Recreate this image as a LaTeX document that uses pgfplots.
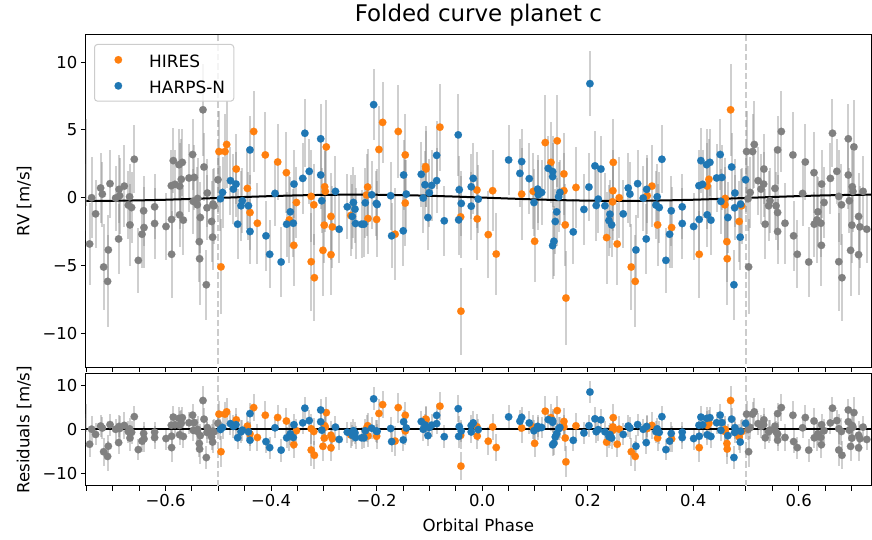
\documentclass[border=0pt]{standalone}
\usepackage{fontspec}
\setmainfont{DejaVu Sans}
\usepackage{pgfplots}
\pgfplotsset{compat=1.18}
\usepackage{pgfplotstable}
\definecolor{mplorange}{HTML}{FF7F0E}
\definecolor{mplblue}{HTML}{1F77B4}
\definecolor{mplgray}{HTML}{808080}

\pgfplotstableread{
x y e
-0.4988 3.41 3.0
-0.4874 3.41 2.8
-0.4842 3.93 3.2
-0.4950 -5.10 3.5
-0.4330 4.89 3.0
-0.4660 2.12 2.6
-0.4450 0.69 3.0
-0.4400 -1.09 2.8
-0.4260 -1.88 3.0
-0.4110 3.16 3.2
-0.3875 2.64 2.8
-0.3710 1.85 3.0
-0.3520 -0.35 2.6
-0.3655 -1.63 3.2
-0.3570 -3.51 3.0
-0.3240 0.10 3.4
-0.3190 -0.52 3.0
-0.2954 3.75 3.5
-0.2985 0.81 2.8
-0.2973 0.47 3.0
-0.2865 -1.38 3.2
-0.2992 -2.02 2.8
-0.2840 -2.15 3.0
-0.3017 -3.88 3.4
-0.2865 -4.20 3.0
-0.3240 -4.72 3.6
-0.3180 -5.90 3.2
-0.2490 -1.31 3.0
-0.2170 0.79 2.8
-0.2190 0.20 3.0
-0.2164 -1.53 2.6
-0.2000 -1.60 2.8
-0.1956 3.56 3.2
-0.1886 5.56 3.0
-0.1590 4.89 3.4
-0.1457 3.16 3.0
-0.1457 -0.39 3.2
-0.1650 -2.69 3.4
-0.1070 2.30 3.0
-0.1065 2.12 2.8
-0.0800 5.21 3.2
-0.0407 -1.41 3.0
-0.0099 0.57 2.8
-0.0093 -1.56 3.0
-0.0402 -8.37 3.2
0.0199 0.52 3.0
0.0116 -2.72 3.2
0.0267 -4.15 3.0
0.0749 0.27 3.4
0.0995 -3.21 3.0
0.0968 0.47 2.8
0.1196 4.07 3.5
0.1423 4.20 3.4
0.1304 2.61 3.0
0.1550 1.76 3.0
0.1550 0.52 2.8
0.1575 -2.00 3.0
0.1588 -7.40 3.5
0.1778 0.76 3.0
0.2485 2.61 3.2
0.2479 0.52 3.0
0.2473 -0.30 2.8
0.2598 0.00 3.0
0.2359 -2.94 3.4
0.2560 -3.41 3.0
0.2826 -5.11 3.2
0.2901 -6.17 3.4
0.3218 0.86 3.0
0.3129 0.15 2.8
0.3325 -2.00 3.0
0.4709 6.49 3.4
0.4298 1.36 3.0
0.4266 0.86 3.2
0.4607 -0.05 3.0
0.4601 -0.52 2.8
0.3591 -2.20 3.0
0.4114 -4.17 3.2
0.4639 -3.24 3.0
0.4645 -4.50 3.4
0.4872 -1.75 3.0
0.4917 -0.59 2.8
}\hires

\pgfplotstableread{
x y e
-0.4920 0.39 2.6
-0.4960 -0.07 2.4
-0.4770 1.26 2.5
-0.4665 1.01 2.4
-0.4715 0.64 2.6
-0.4400 3.53 2.5
-0.4545 -0.22 2.4
-0.4570 -0.59 2.6
-0.4430 -0.59 2.5
-0.4635 -1.95 2.6
-0.4400 -2.49 2.4
-0.4097 -2.81 2.6
-0.4027 -4.17 2.5
-0.3810 -4.74 2.6
-0.3926 0.32 2.4
-0.3566 1.01 2.5
-0.3636 -1.04 2.6
-0.3705 -1.95 2.4
-0.3580 -1.88 2.5
-0.3400 1.43 2.6
-0.3360 4.76 2.5
-0.3277 1.95 2.4
-0.3060 4.35 2.6
-0.3060 1.68 2.5
-0.3040 -0.22 2.4
-0.2780 0.47 2.6
-0.2710 -2.32 2.5
-0.2556 -0.67 2.4
-0.2440 -0.35 2.6
-0.2410 -0.84 2.5
-0.2460 -1.38 2.4
-0.2400 -1.90 2.6
-0.2284 -1.95 2.5
-0.2240 -1.95 2.4
-0.2215 -0.37 2.6
-0.2094 0.22 2.5
-0.2006 -0.42 2.4
-0.1990 -0.50 2.6
-0.2056 6.87 2.6
-0.1734 0.15 2.5
-0.1715 -2.81 2.4
-0.1488 1.68 2.6
-0.1438 0.27 2.5
-0.1495 -2.44 2.6
-0.1154 1.73 2.4
-0.1084 0.96 2.5
-0.0957 0.91 2.6
-0.0862 1.26 2.4
-0.1002 0.37 2.5
-0.1116 -0.02 2.6
-0.0862 3.13 2.5
-0.1027 -1.46 2.4
-0.0718 -1.70 2.6
-0.0453 4.64 3.0
-0.0434 0.59 2.5
-0.0396 -0.42 2.4
-0.0445 -1.63 2.6
-0.0207 -0.62 2.5
-0.0207 0.81 2.4
-0.0169 1.43 2.6
-0.0074 -0.10 2.5
0.0502 2.79 2.6
0.0716 1.80 2.5
0.0749 2.67 2.4
0.0893 1.41 2.6
0.1052 0.64 2.5
0.1128 0.39 2.4
0.1063 0.22 2.6
0.0982 -0.35 2.5
0.1253 2.17 2.4
0.1336 1.93 2.6
0.1336 1.56 2.5
0.1474 0.39 2.4
0.1450 0.07 2.6
0.1412 -1.04 2.5
0.1386 -1.75 2.4
0.1360 -3.21 2.6
0.1336 -3.53 2.5
0.1727 -2.52 2.4
0.2043 8.42 2.4
0.1929 -0.86 2.6
0.2024 0.79 2.5
0.2138 2.35 2.6
0.2251 2.12 2.4
0.2200 -0.10 2.5
0.2162 -0.57 2.6
0.2327 -0.59 2.4
0.2422 -1.21 2.5
0.2403 -1.68 2.6
0.2454 -2.00 2.4
0.2674 -1.19 2.5
0.2769 0.72 2.6
0.2801 0.27 2.4
0.2947 1.04 2.5
0.2915 -3.85 2.6
0.3053 -0.02 2.4
0.3118 0.62 2.5
0.3110 -3.04 2.6
0.3318 0.07 2.4
0.3294 -0.54 2.5
0.3356 -0.72 2.6
0.3407 2.84 2.5
0.3483 -4.62 2.4
0.3584 -0.96 2.6
0.3553 -2.69 2.5
0.3792 -0.67 2.4
0.3792 -1.90 2.6
0.4008 -2.12 2.5
0.4114 -1.60 2.4
0.4109 0.89 2.6
0.4178 0.99 2.5
0.4146 2.74 2.4
0.4254 2.44 2.6
0.4317 2.61 2.5
0.4266 -1.26 2.4
0.4336 -1.65 2.6
0.4444 1.46 2.5
0.4544 1.50 2.4
0.4512 3.19 2.6
0.4728 2.27 2.5
0.4525 -0.27 2.4
0.4658 -1.46 2.6
0.4791 0.35 2.5
0.4785 -0.74 2.4
0.4898 -0.47 2.6
0.4993 1.33 2.5
0.4891 -2.91 2.4
0.4772 -6.42 2.6
}\harps

\pgfplotstableread{
x y
-0.75 -0.230
-0.70 -0.223
-0.65 -0.194
-0.60 -0.147
-0.55 -0.085
-0.50 -0.014
-0.45 0.057
-0.40 0.123
-0.35 0.177
-0.30 0.214
-0.25 0.230
-0.20 0.223
-0.15 0.194
-0.10 0.147
-0.05 0.085
0.00 0.014
0.05 -0.057
0.10 -0.123
0.15 -0.177
0.20 -0.214
0.25 -0.230
0.30 -0.223
0.35 -0.194
0.40 -0.147
0.45 -0.085
0.50 -0.014
0.55 0.057
0.60 0.123
0.65 0.177
0.70 0.214
0.75 0.230
}\model

\pgfplotsset{
  base/.style={
    scale only axis, width=785.3bp,
    xmin=-0.7514, xmax=0.737,
    axis line style={black, line width=1bp},
    tick style={black, line width=1bp},
    tick align=outside,
    xtick pos=left, ytick pos=left,
    major tick length=4.9bp, minor tick length=4.9bp,
    xtick={-0.6,-0.4,-0.2,0,0.2,0.4,0.6},
    minor xtick={-0.75,-0.7,-0.65,-0.55,-0.5,-0.45,-0.35,-0.3,-0.25,-0.15,-0.1,-0.05,0.05,0.1,0.15,0.25,0.3,0.35,0.45,0.5,0.55,0.65,0.7},
    tick label style={font=\fontsize{16.5}{19}\selectfont},
    label style={font=\fontsize{16.7}{20}\selectfont},
    ylabel style={at={(axis description cs:-0.0718,0.5)}, anchor=base},
  },
  ebar/.style={draw=none, mark=none, forget plot,
    error bars/y dir=both, error bars/y explicit, error bars/error mark=none,
    error bars/error bar style={draw=mplgray, line width=2bp, draw opacity=0.38}},
  dots/.style={only marks, color=#1, mark=*, mark size=3.8bp,
    mark options={solid, draw=#1, fill=#1, line width=0.1bp}},
  vline/.style={forget plot, draw=black!20, line width=2bp, dash pattern=on 6.5bp off 3bp},
}

\begin{document}
\begin{tikzpicture}
\useasboundingbox (0,0) rectangle (872bp,540bp);

% ---------------- top panel ----------------
\begin{axis}[base,
  at={(85.7bp,172.7bp)}, anchor=south west,
  height=332.3bp,
  ymin=-12.51, ymax=12.01,
  ytick={-10,-5,0,5,10},
  yticklabels={−10,−5,0,5,10},
  xticklabels={},
  ylabel={RV [m/s]},
  title={Folded curve planet c},
  title style={font=\fontsize{23}{27}\selectfont, at={(axis description cs:0.5,1.023)}, anchor=base},
  legend style={at={(0.0106,0.973)}, anchor=north west,
    draw=black!20, line width=1bp, fill=white, fill opacity=0.8, text opacity=1,
    rounded corners=3bp, inner xsep=6.7bp, inner ysep=4bp,
    font=\fontsize{17}{20}\selectfont,
    nodes={inner sep=2bp, text height=17.3bp, text depth=1.4bp},
    row sep=3.3bp},
  legend cell align=left,
  legend image code/.code={\path (0bp,0bp) (45bp,0bp); \draw[#1, fill opacity=1, draw opacity=1] plot coordinates {(16.6bp,0bp)};},
]
\addplot[vline] coordinates {(-0.5,-13) (-0.5,13)};
\addplot[vline] coordinates {(0.5,-13) (0.5,13)};
% gray phase-wrapped copies
\addplot[ebar, restrict x to domain=-0.76:-0.5] table[x expr=\thisrow{x}-1, y=y, y error=e]{\hires};
\addplot[ebar, restrict x to domain=-0.76:-0.5] table[x expr=\thisrow{x}-1, y=y, y error=e]{\harps};
\addplot[ebar, restrict x to domain=0.5:0.76] table[x expr=\thisrow{x}+1, y=y, y error=e]{\hires};
\addplot[ebar, restrict x to domain=0.5:0.76] table[x expr=\thisrow{x}+1, y=y, y error=e]{\harps};
\addplot[ebar] table[x=x, y=y, y error=e]{\hires};
\addplot[ebar] table[x=x, y=y, y error=e]{\harps};
\addplot[black, line width=2bp, forget plot] table[x=x, y=y]{\model};
\addplot[dots=mplgray, forget plot, restrict x to domain=-0.76:-0.5] table[x expr=\thisrow{x}-1, y=y]{\hires};
\addplot[dots=mplgray, forget plot, restrict x to domain=-0.76:-0.5] table[x expr=\thisrow{x}-1, y=y]{\harps};
\addplot[dots=mplgray, forget plot, restrict x to domain=0.5:0.76] table[x expr=\thisrow{x}+1, y=y]{\hires};
\addplot[dots=mplgray, forget plot, restrict x to domain=0.5:0.76] table[x expr=\thisrow{x}+1, y=y]{\harps};
\addplot[dots=mplorange] table[x=x, y=y]{\hires};
\addlegendentry{HIRES}
\addplot[dots=mplblue] table[x=x, y=y]{\harps};
\addlegendentry{HARPS-N}
\end{axis}

% ---------------- residual panel ----------------
\begin{axis}[base,
  at={(85.7bp,54.3bp)}, anchor=south west,
  height=111.7bp,
  ymin=-12.8, ymax=12.5,
  ytick={-10,0,10},
  yticklabels={−10,0,10},
  xticklabels={−0.6,−0.4,−0.2,0.0,0.2,0.4,0.6},
  ylabel={Residuals [m/s]},
  xlabel={Orbital Phase},
  xlabel style={at={(axis description cs:0.5,-0.412)}, anchor=base},
]
\addplot[vline] coordinates {(-0.5,-13) (-0.5,13)};
\addplot[vline] coordinates {(0.5,-13) (0.5,13)};
\addplot[ebar, restrict x to domain=-0.76:-0.5] table[x expr=\thisrow{x}-1, y=y, y error=e]{\hires};
\addplot[ebar, restrict x to domain=-0.76:-0.5] table[x expr=\thisrow{x}-1, y=y, y error=e]{\harps};
\addplot[ebar, restrict x to domain=0.5:0.76] table[x expr=\thisrow{x}+1, y=y, y error=e]{\hires};
\addplot[ebar, restrict x to domain=0.5:0.76] table[x expr=\thisrow{x}+1, y=y, y error=e]{\harps};
\addplot[ebar] table[x=x, y=y, y error=e]{\hires};
\addplot[ebar] table[x=x, y=y, y error=e]{\harps};
\addplot[black, line width=2bp, forget plot] coordinates {(-0.76,0) (0.76,0)};
\addplot[dots=mplgray, restrict x to domain=-0.76:-0.5] table[x expr=\thisrow{x}-1, y=y]{\hires};
\addplot[dots=mplgray, restrict x to domain=-0.76:-0.5] table[x expr=\thisrow{x}-1, y=y]{\harps};
\addplot[dots=mplgray, restrict x to domain=0.5:0.76] table[x expr=\thisrow{x}+1, y=y]{\hires};
\addplot[dots=mplgray, restrict x to domain=0.5:0.76] table[x expr=\thisrow{x}+1, y=y]{\harps};
\addplot[dots=mplorange] table[x=x, y=y]{\hires};
\addplot[dots=mplblue] table[x=x, y=y]{\harps};
\end{axis}
\end{tikzpicture}
\end{document}
